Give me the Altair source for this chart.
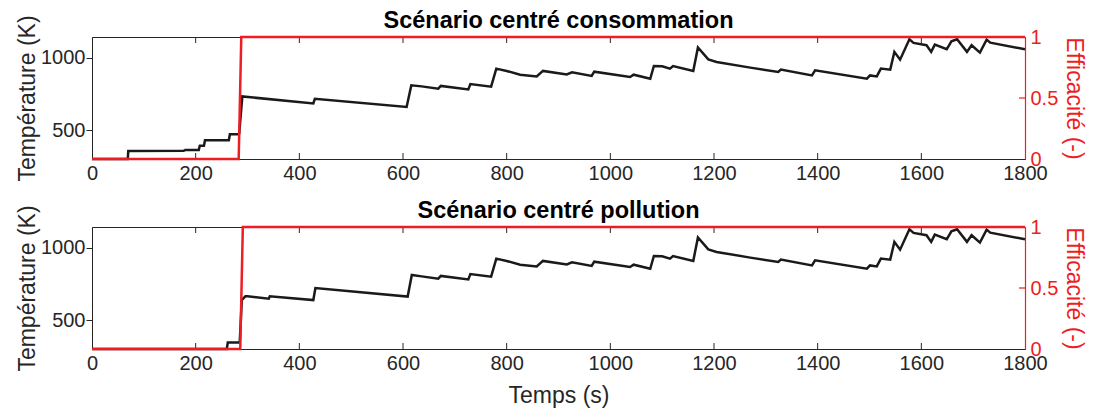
import altair as alt
import pandas as pd

# ---------------- data ----------------
# Scénario centré consommation : temperature (K) vs time (s)
t_conso = [0, 69, 70, 177, 180, 206, 208, 216, 218, 264, 266, 282, 284, 290,
           427, 430, 607, 616]
T_conso = [300, 300, 355, 357, 363, 363, 392, 392, 430, 430, 472, 472, 475, 733,
           685, 717, 660, 810]

# Scénario centré pollution : temperature (K) vs time (s)
t_poll = [0, 260, 262, 285, 289, 292, 296, 300, 341, 343, 427, 431, 609, 617]
T_poll = [300, 300, 345, 345, 639, 650, 665, 665, 648, 665, 639, 722, 663, 813]

# common part of both scenarios after ~630 s
t_tail = [636, 668, 673, 726, 730, 770, 780, 800, 826, 858, 870, 916, 926, 964,
          969, 1038, 1045, 1077, 1084, 1100, 1115, 1121, 1160, 1169, 1189, 1205,
          1270, 1324, 1329, 1389, 1395, 1495, 1501, 1514, 1522, 1540, 1548, 1559,
          1577, 1585, 1610, 1619, 1626, 1649, 1658, 1669, 1688, 1697, 1713, 1726,
          1733, 1800]
T_tail = [803, 787, 806, 782, 819, 801, 926, 910, 884, 872, 910, 886, 900, 875,
          905, 868, 884, 856, 944, 942, 926, 944, 910, 1072, 990, 972,
          933, 903, 919, 879, 914, 856, 879, 872, 926, 919, 1042, 988,
          1129, 1104, 1088, 1042, 1092, 1060, 1115, 1129, 1042, 1088, 1037, 1127,
          1106, 1060]

# efficiency (-) vs time (s)
t_eff_conso = [0, 283, 288, 1800]
eff_conso = [0, 0, 1, 1]
t_eff_poll = [0, 286, 291, 1800]
eff_poll = [0, 0, 1, 1]

x_ticks = [0, 200, 400, 600, 800, 1000, 1200, 1400, 1600, 1800]
T_ticks = [500, 1000]
eff_ticks = [0, 0.5, 1]

titles = ["Scénario centré consommation", "Scénario centré pollution"]

# ---------------- style ----------------
W, H = 933, 122
FONT = "Liberation Sans, Arial, Helvetica, sans-serif"
GREY = "#262626"
RED = "#ee1d23"
T_DOMAIN = [300, 1145]
TICK_LEN = 6


def panel(t, T, te, e, title, show_xtitle):
    dT = pd.DataFrame({"t": t, "T": T})
    dE = pd.DataFrame({"t": te, "e": e})
    dX = pd.DataFrame({"t": x_ticks[1:-1]})
    dR = pd.DataFrame({"e": [v for v in eff_ticks if 0 < v < 1]})

    xscale = alt.Scale(domain=[0, 1800], nice=False, zero=False)
    xaxis = alt.Axis(values=x_ticks, title="Temps (s)" if show_xtitle else None,
                     format="d", labelFlush=False, ticks=False, grid=False,
                     labelPadding=4, titlePadding=11)
    tscale = alt.Scale(domain=T_DOMAIN, nice=False, zero=False)
    taxis = alt.Axis(values=T_ticks, title="Température (K)", format="d",
                     ticks=True, tickSize=TICK_LEN, tickColor=GREY, tickWidth=1,
                     labelPadding=1, titlePadding=1,
                     grid=False, orient="left", labelFlush=False)
    escale = alt.Scale(domain=[0, 1], nice=False)
    eaxis = alt.Axis(values=eff_ticks, title="Efficacité (-)", orient="right",
                     format=".1~f", ticks=False, grid=False, labelFlush=False,
                     domainColor=RED, labelColor=RED, titleColor=RED,
                     domainWidth=1.2, labelPadding=5, titlePadding=4)

    black = alt.Chart(dT).mark_line(color="#1a1a1a", strokeWidth=2.5).encode(
        x=alt.X("t:Q", scale=xscale, axis=xaxis),
        y=alt.Y("T:Q", scale=tscale, axis=taxis),
    )
    xt_bottom = alt.Chart(dX).mark_rule(color=GREY, strokeWidth=1).encode(
        x=alt.X("t:Q", scale=xscale, axis=xaxis),
        y=alt.value(H - TICK_LEN), y2=alt.value(H),
    )
    xt_top = alt.Chart(dX).mark_rule(color=GREY, strokeWidth=1).encode(
        x=alt.X("t:Q", scale=xscale, axis=xaxis),
        y=alt.value(0), y2=alt.value(TICK_LEN),
    )
    left = alt.layer(black, xt_bottom, xt_top)

    red = alt.Chart(dE).mark_line(color=RED, strokeWidth=2.5).encode(
        x=alt.X("t:Q", scale=xscale, axis=xaxis),
        y=alt.Y("e:Q", scale=escale, axis=eaxis),
    )
    yt_right = alt.Chart(dR).mark_rule(color=RED, strokeWidth=1.2).encode(
        y=alt.Y("e:Q", scale=escale, axis=eaxis),
        x=alt.value(W - TICK_LEN), x2=alt.value(W),
    )
    right = alt.layer(red, yt_right)

    return alt.layer(left, right).resolve_scale(y="independent").properties(
        width=W, height=H,
        title=alt.TitleParams(title, fontSize=23.5, fontWeight="bold", color="#000000",
                              font=FONT, anchor="middle", offset=-18, frame="group"),
    )


top = panel(t_conso + t_tail, T_conso + T_tail, t_eff_conso, eff_conso, titles[0], False)
bottom = panel(t_poll + t_tail, T_poll + T_tail, t_eff_poll, eff_poll, titles[1], True)

chart = alt.vconcat(top, bottom, spacing=68, bounds="flush").properties(
    padding={"left": 8, "top": 0, "right": 0, "bottom": 0},
    background="white",
).configure_view(
    stroke=GREY, strokeWidth=1,
).configure_axis(
    labelFont=FONT, titleFont=FONT, labelFontSize=20, titleFontSize=23,
    titleFontWeight="normal", labelColor=GREY, titleColor=GREY,
    domainColor=GREY, domainWidth=1,
)

chart.save("out.html", embed_options={"renderer": "svg", "actions": False})
